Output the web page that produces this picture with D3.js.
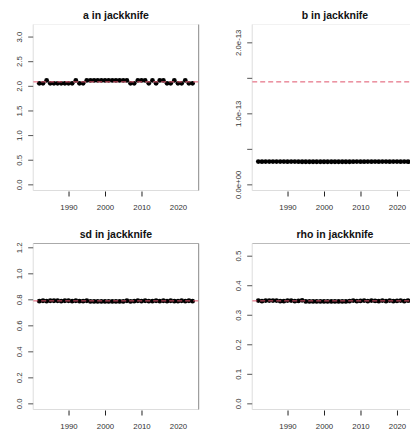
<!DOCTYPE html>
<html><head><meta charset="utf-8">
<script src="https://cdn.jsdelivr.net/npm/d3@7"></script>
<style>body{margin:0;background:#fff}svg{display:block;font-family:"Liberation Sans",Arial,sans-serif}</style>
</head><body>
<script>
const years = d3.range(1982, 2025);
// pattern (L = lower, H = higher)
const aVals = [2.05,2.05,2.11,2.05,2.05,2.05,2.05,2.05,2.05,2.05,2.11,2.05,2.05,2.11,2.11,2.11,2.11,2.11,2.11,2.11,2.11,2.11,2.11,2.11,2.11,2.05,2.05,2.11,2.11,2.11,2.05,2.11,2.05,2.11,2.11,2.05,2.05,2.11,2.05,2.05,2.11,2.05,2.05];
const bVals = [3.21e-14,3.20e-14,3.21e-14,3.21e-14,3.21e-14,3.21e-14,3.21e-14,3.21e-14,3.20e-14,3.21e-14,3.21e-14,3.19e-14,3.18e-14,3.18e-14,3.18e-14,3.18e-14,3.18e-14,3.18e-14,3.18e-14,3.18e-14,3.18e-14,3.18e-14,3.18e-14,3.18e-14,3.18e-14,3.18e-14,3.20e-14,3.21e-14,3.19e-14,3.19e-14,3.21e-14,3.19e-14,3.21e-14,3.19e-14,3.21e-14,3.21e-14,3.19e-14,3.21e-14,3.21e-14,3.19e-14,3.21e-14,3.19e-14,3.21e-14];
const sdVals = [0.786,0.789,0.786,0.789,0.789,0.789,0.786,0.789,0.789,0.786,0.789,0.786,0.786,0.789,0.784,0.784,0.784,0.784,0.784,0.784,0.784,0.784,0.784,0.784,0.789,0.784,0.786,0.789,0.786,0.789,0.786,0.786,0.789,0.786,0.789,0.786,0.789,0.786,0.786,0.789,0.786,0.789,0.786];
const rhoVals = [0.348,0.346,0.348,0.348,0.348,0.348,0.346,0.346,0.348,0.348,0.346,0.347,0.349,0.345,0.345,0.345,0.345,0.345,0.345,0.345,0.345,0.345,0.345,0.345,0.345,0.346,0.348,0.346,0.347,0.348,0.346,0.348,0.347,0.346,0.348,0.346,0.348,0.346,0.347,0.348,0.346,0.348,0.347];
const fullVals = {a: 2.08, b: 1.443e-13, sd: 0.788, rho: 0.347};
const titles = ["a in jackknife","b in jackknife","sd in jackknife","rho in jackknife"];
const xTicks = [1990, 2000, 2010, 2020];
const aTicks = [0,0.5,1,1.5,2,2.5,3];
const aLabels = ["0.0","0.5","1.0","1.5","2.0","2.5","3.0"];
const bTicks = [0,5e-14,1e-13,1.5e-13,2e-13];
const bLabels = ["0.0e+00","","1.0e-13","","2.0e-13"];
const sdTicks = [0,0.2,0.4,0.6,0.8,1.0,1.2];
const sdLabels = ["0.0","0.2","0.4","0.6","0.8","1.0","1.2"];
const rhoTicks = [0,0.1,0.2,0.3,0.4,0.5];
const rhoLabels = ["0.0","0.1","0.2","0.3","0.4","0.5"];

const W = 410, H = 436, P = 219;
const m = {l:33.2, r:20.3, t:24.5, b:28.5};
const svg = d3.select("body").append("svg").attr("width", W).attr("height", H);

const panels = [
  {key:"a", vals:aVals, ticks:aTicks, labels:aLabels, col:0, row:0, box:{t:"#f2f2f2",l:"#dddddd",b:"#dddddd",r:"#888"}},
  {key:"b", vals:bVals, ticks:bTicks, labels:bLabels, col:1, row:0, box:{t:"#f2f2f2",l:"#dddddd",b:"#dddddd",r:"#888"}},
  {key:"sd", vals:sdVals, ticks:sdTicks, labels:sdLabels, col:0, row:1, box:{t:"#aaaaaa",l:"#dddddd",b:"#dddddd",r:"#888"}},
  {key:"rho", vals:rhoVals, ticks:rhoTicks, labels:rhoLabels, col:1, row:1, box:{t:"#bbbbbb",l:"#dddddd",b:"#dddddd",r:"#888"}}
];

panels.forEach((p, i) => {
  const ox = p.col * P, oy = p.row * P;
  const x0 = ox + m.l, x1 = ox + P - m.r, y0 = oy + m.t, y1 = oy + P - m.b;
  const xr = [d3.min(years), d3.max(years)], xe = 0.04*(xr[1]-xr[0]);
  const x = d3.scaleLinear().domain([xr[0]-xe, xr[1]+xe]).range([x0, x1]);
  const hi = 1.5*fullVals[p.key], ye = 0.04*hi;
  const y = d3.scaleLinear().domain([-ye, hi+ye]).range([y1, y0]);
  const g = svg.append("g");
  const clipId = "clip"+i;
  svg.append("clipPath").attr("id", clipId).append("rect").attr("x",x0).attr("y",y0).attr("width",x1-x0).attr("height",y1-y0);

  // title
  g.append("text").attr("x", (x0+x1)/2).attr("y", oy+18.5).attr("text-anchor","middle")
    .attr("font-size", 10.5).attr("font-weight","bold").attr("fill","#111").text(titles[i]);

  // box sides
  const sides = [[x0,y0,x1,y0,p.box.t],[x0,y0,x0,y1,p.box.l],[x0,y1,x1,y1,p.box.b],[x1,y0,x1,y1,p.box.r]];
  sides.forEach(s => g.append("line").attr("x1",s[0]).attr("y1",s[1]).attr("x2",s[2]).attr("y2",s[3]).attr("stroke",s[4]).attr("stroke-width",1));

  // y axis
  const yAxis = d3.axisLeft(y).tickValues(p.ticks).tickSize(5).tickSizeOuter(0).tickFormat((d,j) => p.labels[j]);
  const ya = g.append("g").attr("transform",`translate(${x0},0)`).call(yAxis);
  ya.select(".domain").remove();
  ya.selectAll(".tick line").attr("stroke","#555");
  ya.selectAll(".tick text").attr("font-size",7.8).attr("fill","#333").attr("font-family","Liberation Sans, Arial, sans-serif")
    .attr("transform", "rotate(-90)")
    .attr("x", 0).attr("y", -11).attr("dy", 0).attr("text-anchor","middle");

  // x axis
  const xAxis = d3.axisBottom(x).tickValues(xTicks).tickSize(5).tickSizeOuter(0).tickFormat(d3.format("d")).tickPadding(8);
  const xa = g.append("g").attr("transform",`translate(0,${y1+1})`).call(xAxis);
  xa.select(".domain").remove();
  xa.selectAll(".tick line").attr("stroke","#222").attr("stroke-opacity", d => (p.col===0 && d===2020) ? 0 : 1);
  xa.selectAll(".tick text").attr("font-size",7.8).attr("fill","#333").attr("font-family","Liberation Sans, Arial, sans-serif");

  // points
  g.append("g").selectAll("circle").data(p.vals).join("circle")
    .attr("cx", (d,j) => x(years[j])).attr("cy", d => y(d)).attr("r", 2.4).attr("fill","#000");

  // full estimate line (clipped to plot region)
  g.append("line").attr("clip-path", `url(#${clipId})`).attr("x1", x0).attr("x2", x1).attr("y1", y(fullVals[p.key])).attr("y2", y(fullVals[p.key]))
    .attr("stroke","#DF536B").attr("stroke-width",1).attr("stroke-dasharray","5,3");
});
</script>
</body></html>
